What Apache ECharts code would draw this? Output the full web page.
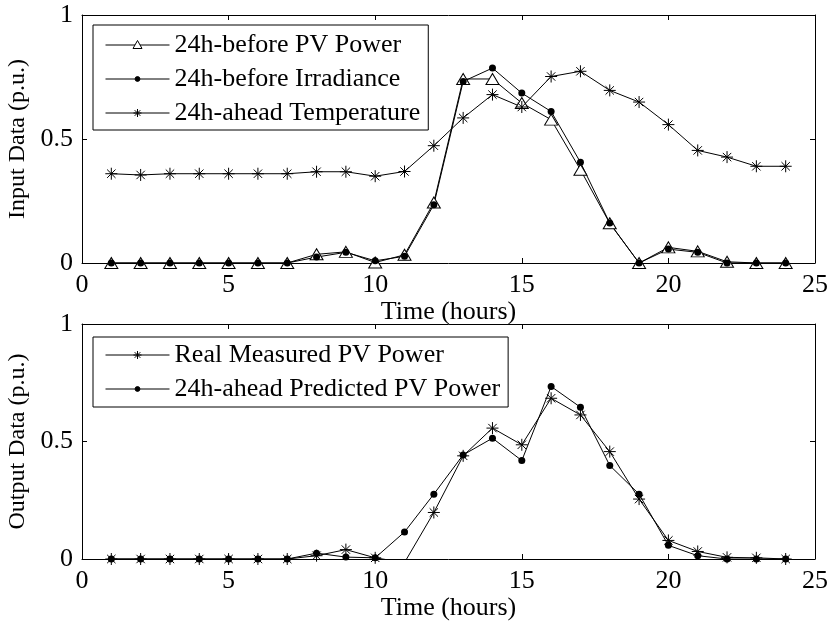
<!DOCTYPE html>
<html>
<head>
<meta charset="utf-8">
<script src="https://cdn.jsdelivr.net/npm/echarts@6/dist/echarts.min.js"></script>
<style>html,body{margin:0;padding:0;background:#fff;}#chart{width:827px;height:621px;}</style>
</head>
<body>
<div id="chart"></div>
<script>
// ---- data ----
const hours = [1,2,3,4,5,6,7,8,9,10,11,12,13,14,15,16,17,18,19,20,21,22,23,24];
const pvPowerBefore = [0,0,0,0,0,0,0,0.035,0.045,0.002,0.033,0.244,0.742,0.742,0.645,0.578,0.376,0.16,0.0,0.063,0.047,0.005,0,0];
const irradianceBefore = [0,0,0,0,0,0,0,0.024,0.043,0.009,0.027,0.235,0.732,0.786,0.685,0.611,0.406,0.161,0.0,0.056,0.043,0.0,0,0];
const temperatureAhead = [0.36,0.355,0.36,0.36,0.36,0.36,0.36,0.368,0.368,0.35,0.369,0.473,0.585,0.679,0.629,0.752,0.773,0.696,0.649,0.558,0.454,0.427,0.39,0.39];
const realMeasured = [0,0,0,0,0,0,0,0.014,0.04,0.005,-0.015,0.198,0.439,0.557,0.486,0.684,0.613,0.457,0.255,0.079,0.032,0.007,0.005,0];
const predicted = [0,0,0,0,0,0,0,0.025,0.008,0.005,0.115,0.276,0.443,0.514,0.419,0.734,0.646,0.398,0.276,0.058,0.014,0,0,0];
const topNames = ['24h-before PV Power','24h-before Irradiance','24h-ahead Temperature'];
const bottomNames = ['Real Measured PV Power','24h-ahead Predicted PV Power'];
const xLabel = 'Time (hours)';
const yLabelTop = 'Input Data (p.u.)';
const yLabelBottom = 'Output Data (p.u.)';

// ---- chart ----
const FONT = 'Liberation Serif';
const FS = 26;
const STAR = 'path://M0,-10L0,10M-10,0L10,0M-7,-7L7,7M-7,7L7,-7';
const pairs = v => hours.map((h, i) => [h, v[i]]);

// legend icons: sample line with marker in the middle (64 x 12 box)
const LB = 'M0,0M64,12';
const STYLES = {
  tri: {symbol: 'triangle', size: [13, 11], item: {color: '#fff', borderColor: '#000', borderWidth: 1},
        icon: 'path://' + LB + 'M0,6L29.5,6M34.5,6L64,6M32,1.5L36.5,9.5L27.5,9.5Z',
        legendItem: {color: '#fff', borderColor: '#000', borderWidth: 1}},
  dot: {symbol: 'circle', size: 7, item: {color: '#000', borderColor: '#000', borderWidth: 0},
        icon: 'path://' + LB + 'M0,6L64,6M29.6,6A2.4,2.4,0,1,1,34.4,6A2.4,2.4,0,1,1,29.6,6Z',
        legendItem: {color: '#000', borderColor: '#000', borderWidth: 1}},
  star: {symbol: STAR, size: 12, item: {color: 'none', borderColor: '#000', borderWidth: 1},
        icon: 'path://' + LB + 'M0,6L64,6M32,2L32,10M28,6L36,6M29.2,3.2L34.8,8.8M29.2,8.8L34.8,3.2',
        legendItem: {color: 'none', borderColor: '#000', borderWidth: 1}}
};

function xAx(grid, pos, labels) {
  return {
    type: 'value', gridIndex: grid, position: pos, min: 0, max: 25, interval: 5,
    name: labels ? xLabel : '', nameLocation: 'middle', nameGap: 34,
    nameTextStyle: {fontFamily: FONT, fontSize: FS, color: '#000'},
    axisLine: {show: true, onZero: false, lineStyle: {color: '#000', width: 1}},
    axisTick: {show: true, inside: true, length: 5, lineStyle: {color: '#000'}},
    axisLabel: {show: labels, margin: 9, fontFamily: FONT, fontSize: FS, color: '#000'},
    splitLine: {show: false}
  };
}
function yAx(grid, pos, labels, name) {
  return {
    type: 'value', gridIndex: grid, position: pos, min: 0, max: 1, interval: 0.5,
    name: labels ? name : '', nameLocation: 'middle', nameGap: 36,
    nameTextStyle: {fontFamily: FONT, fontSize: 24, color: '#000'},
    axisLine: {show: true, onZero: false, lineStyle: {color: '#000', width: 1}},
    axisTick: {show: true, inside: true, length: 5, lineStyle: {color: '#000'}},
    axisLabel: {show: labels, margin: 9, fontFamily: FONT, fontSize: FS, color: '#000'},
    splitLine: {show: false}
  };
}
function ser(name, data, xi, yi, kind) {
  const st = STYLES[kind];
  return {
    name: name, type: 'line', xAxisIndex: xi, yAxisIndex: yi, data: pairs(data),
    clip: true, animation: false,
    symbol: st.symbol, symbolSize: st.size, itemStyle: st.item,
    lineStyle: {color: '#000', width: 1},
    emphasis: {disabled: true}
  };
}
function leg(names, kinds, top, pad) {
  return {
    data: names.map((n, i) => ({name: n, icon: STYLES[kinds[i]].icon, itemStyle: STYLES[kinds[i]].legendItem})),
    orient: 'vertical', left: 93, top: top,
    backgroundColor: '#fff', borderColor: '#000', borderWidth: 1,
    padding: pad, itemWidth: 64, itemHeight: 12, itemGap: 8,
    selectedMode: false,
    textStyle: {fontFamily: FONT, fontSize: FS, color: '#000', lineHeight: 26}
  };
}

const chart = echarts.init(document.getElementById('chart'), null, {renderer: 'canvas'});
chart.setOption({
  backgroundColor: '#fff',
  animation: false,
  grid: [
    {left: 82, right: 12, top: 15, height: 248, containLabel: false, outerBoundsMode: 'none'},
    {left: 82, right: 12, top: 324, height: 235, containLabel: false, outerBoundsMode: 'none'}
  ],
  xAxis: [xAx(0, 'bottom', true), xAx(0, 'top', false), xAx(1, 'bottom', true), xAx(1, 'top', false)],
  yAxis: [yAx(0, 'left', true, yLabelTop), yAx(0, 'right', false), yAx(1, 'left', true, yLabelBottom), yAx(1, 'right', false)],
  legend: [leg(topNames, ['tri', 'dot', 'star'], 25, [7, 8, 4, 10]), leg(bottomNames, ['star', 'dot'], 337, [5, 8, 5, 10])],
  series: [
    ser(topNames[0], pvPowerBefore, 0, 0, 'tri'),
    ser(topNames[1], irradianceBefore, 0, 0, 'dot'),
    ser(topNames[2], temperatureAhead, 0, 0, 'star'),
    ser(bottomNames[0], realMeasured, 2, 2, 'star'),
    ser(bottomNames[1], predicted, 2, 2, 'dot')
  ]
});
</script>
</body>
</html>
